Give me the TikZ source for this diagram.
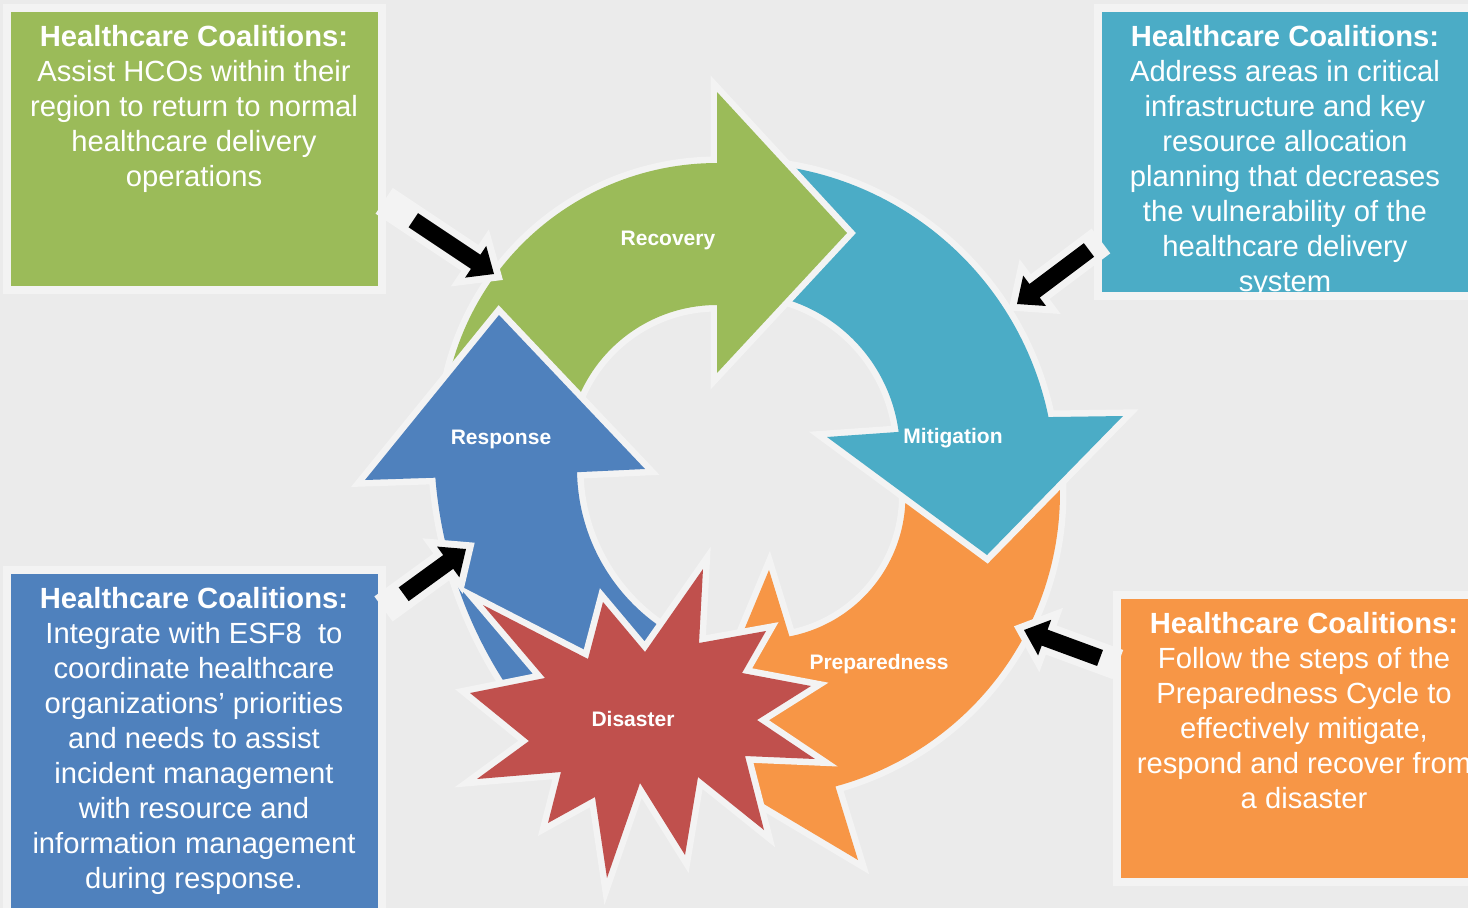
\documentclass[tikz,border=0pt]{standalone}
\usepackage{fontspec}
\setmainfont{Liberation Sans}
\definecolor{bg}{HTML}{EBEBEB}
\definecolor{edge}{HTML}{F3F3F3}
\definecolor{cgreen}{HTML}{9BBB59}
\definecolor{cteal}{HTML}{4BACC6}
\definecolor{corange}{HTML}{F79646}
\definecolor{cblue}{HTML}{4F81BD}
\definecolor{cred}{HTML}{C0504D}
\tikzset{
  cycleshape/.style={fill=#1, preaction={draw=edge, line width=13pt, line join=miter}},
  boxframe/.style={fill=#1, draw=edge, line width=8pt},
  boxtext/.style={text=white, align=center, anchor=north, inner sep=0pt, font=\fontsize{29.2}{35}\selectfont},
  steplabel/.style={text=white, anchor=base, inner sep=0pt, font=\fontsize{21}{25}\selectfont\bfseries},
  arcplot/.style={samples=60, variable=\t},
}
\newcommand{\hcarrow}[5]{%
  \begin{scope}[shift={(#1)}, rotate=#2]
    \fill[edge, draw=edge, line width=14pt, line join=miter]
      (0,0) -- (-22,19) -- (-22,8.5) -- (-#3-#4,8.5) -- (-#3-#4,-8.5) -- (-22,-8.5) -- (-22,-19) -- cycle;
    \fill[black] (0,0) -- (-22,19) -- (-22,8.5) -- (-#3,8.5) -- (-#3,-8.5) -- (-22,-8.5) -- (-22,-19) -- cycle;
    \coordinate (#5) at (0,0);
  \end{scope}}
\begin{document}
\begin{tikzpicture}[x=1pt,y=-1pt]
\useasboundingbox (0,0) rectangle (1468,908);
\fill[bg] (0,0) rectangle (1468,908);

% ---- cycle arrows ----
% Preparedness
\path[cycleshape=corange]
  plot[arcplot, domain=-5:74.86] ({756+304*cos(\t)},{493+304*sin(\t)})
  -- (858,860) -- (690,760) -- (769,570) -- (789.4,636.4)
  -- plot[arcplot, domain=-79.2:10] ({762.5+143*cos(-\t)},{496+143*sin(-\t)}) -- cycle;
% Mitigation
\path[cycleshape=cteal]
  plot[arcplot, domain=-84:-11.6] ({737+318*cos(\t)},{481+318*sin(\t)})
  -- (1123,416) -- (987,555) -- (827,437) -- (898.7,431.9)
  -- plot[arcplot, domain=7.4:85] ({740+160*cos(-\t)},{452.5+160*sin(-\t)}) -- cycle;
% Recovery
\path[cycleshape=cgreen]
  plot[arcplot, domain=-174.16:-90] ({717+275*cos(\t)},{438+275*sin(\t)})
  -- (717,92) -- (847,233) -- (717,373) -- (717,305)
  -- plot[arcplot, domain=90:166.5] ({717+150*cos(-\t)},{455+150*sin(-\t)}) -- cycle;
% Response
\path[cycleshape=cblue]
  plot[arcplot, domain=143.6:175.5] ({876+442*cos(\t)},{443+442*sin(\t)})
  -- (365,480) -- (499,315) -- (645,469) -- (577,472.2)
  -- plot[arcplot, domain=-178.9:-120] ({769+192*cos(-\t)},{468.5+192*sin(-\t)}) -- cycle;
% Disaster star
\path[cycleshape=cred]
  (703,569) -- (699,643) -- (766,631) -- (742,673) -- (811,686) -- (757,720) -- (815,759)
  -- (745,756) -- (764,830) -- (698,777) -- (685,855) -- (640,783) -- (607,878) -- (595,797)
  -- (548,823) -- (561,772) -- (477,779) -- (529,741) -- (470,693) -- (545,678) -- (483,605)
  -- (588,659) -- (603,602) -- (645,652) -- cycle;

\node[steplabel] (lrec) at (668,245) {Recovery};
\node[steplabel] (lmit) at (953,443) {Mitigation};
\node[steplabel] (lres) at (501,444) {Response};
\node[steplabel] (lpre) at (879,669) {Preparedness};
\node[steplabel] (ldis) at (633,726) {Disaster};

% ---- boxes ----
\path[boxframe=cgreen] (7,8) rectangle (382,290);
\path[boxframe=cteal] (1098,8) rectangle (1480,296);
\path[boxframe=cblue] (7,570) rectangle (382,920);
\path[boxframe=corange] (1117,595) rectangle (1480,882);

\node[boxtext] (tgreen) at (194,25) {\textbf{Healthcare Coalitions:}\\Assist HCOs within their\\region to return to normal\\healthcare delivery\\operations};
\begin{scope}
\clip (1102,12) rectangle (1468,292);
\node[boxtext] (tteal) at (1285,25) {\textbf{Healthcare Coalitions:}\\Address areas in critical\\infrastructure and key\\resource allocation\\planning that decreases\\the vulnerability of the\\healthcare delivery\\system};
\end{scope}
\node[boxtext] (tblue) at (194,587) {\textbf{Healthcare Coalitions:}\\Integrate with ESF8 \ to\\coordinate healthcare\\organizations’ priorities\\and needs to assist\\incident management\\with resource and\\information management\\during response.};
\node[boxtext] (torange) at (1304,612) {\textbf{Healthcare Coalitions:}\\Follow the steps of the\\Preparedness Cycle to\\effectively mitigate,\\respond and recover from\\a disaster};

% ---- pointer arrows ----
\hcarrow{494,274}{-33.7}{97}{28}{pgreen}
\hcarrow{1017,304}{-143.1}{90}{8}{pteal}
\hcarrow{466,549}{36}{77}{18}{pblue}
\hcarrow{1024,630}{159.8}{81}{12}{porange}
\end{tikzpicture}
\end{document}
